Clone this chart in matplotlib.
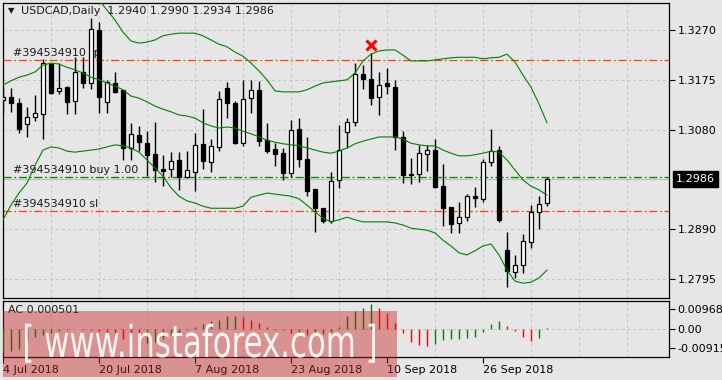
import numpy as np
import matplotlib
matplotlib.use("Agg")
import matplotlib.pyplot as plt
from matplotlib.textpath import TextPath
from matplotlib.patches import PathPatch, Rectangle
from matplotlib.font_manager import FontProperties
from matplotlib.transforms import Affine2D, blended_transform_factory

# --- data ---
opens = [1.3136, 1.3142, 1.3130, 1.3091, 1.3105, 1.3109, 1.3206, 1.3153, 1.3161, 1.3135,
         1.3190, 1.3168, 1.3270, 1.3133, 1.3169, 1.3156, 1.3044, 1.3070, 1.3054, 1.3033,
         1.3005, 1.3004, 1.3022, 1.2990, 1.3000, 1.3053, 1.3019, 1.3047, 1.3159, 1.3131,
         1.3055, 1.3140, 1.3156, 1.3061, 1.3043, 1.3035, 1.2997, 1.3081, 1.3024, 1.2967,
         1.2930, 1.2906, 1.2984, 1.3076, 1.3094, 1.3186, 1.3177, 1.3142, 1.3168, 1.3161,
         1.3065, 1.2995, 1.2995, 1.3034, 1.3041, 1.2972, 1.2932, 1.2901, 1.2914, 1.2953,
         1.2948, 1.3018, 1.3041, 1.2850, 1.2809, 1.2821, 1.2866, 1.2922, 1.2940]
highs = [1.3162, 1.3159, 1.3140, 1.3123, 1.3146, 1.3214, 1.3208, 1.3208, 1.3163, 1.3218,
         1.3218, 1.3292, 1.3286, 1.3175, 1.3190, 1.3156, 1.3092, 1.3087, 1.3078, 1.3095,
         1.3032, 1.3037, 1.3037, 1.3039, 1.3073, 1.3119, 1.3063, 1.3154, 1.3171, 1.3135,
         1.3175, 1.3175, 1.3173, 1.3093, 1.3055, 1.3044, 1.3098, 1.3102, 1.3066, 1.2967,
         1.2930, 1.2999, 1.3089, 1.3102, 1.3208, 1.3203, 1.3227, 1.3189, 1.3198, 1.3175,
         1.3078, 1.3025, 1.3051, 1.3051, 1.3063, 1.3014, 1.2932, 1.2941, 1.2957, 1.2971,
         1.3024, 1.3081, 1.3049, 1.2885, 1.2841, 1.2881, 1.2936, 1.2953, 1.2990]
lows = [1.3111, 1.3114, 1.3073, 1.3065, 1.3097, 1.3063, 1.3148, 1.3148, 1.3109, 1.3109,
        1.3159, 1.3157, 1.3111, 1.3112, 1.3149, 1.3022, 1.3022, 1.3040, 1.2991, 1.2981,
        1.2972, 1.2990, 1.2965, 1.2987, 1.2962, 1.3005, 1.3000, 1.3040, 1.3103, 1.3053,
        1.3049, 1.3112, 1.3049, 1.3036, 1.3011, 1.2984, 1.2990, 1.3009, 1.2954, 1.2885,
        1.2901, 1.2901, 1.2969, 1.3044, 1.3087, 1.3157, 1.3127, 1.3108, 1.3148, 1.3042,
        1.2979, 1.2976, 1.2981, 1.3001, 1.2969, 1.2897, 1.2883, 1.2883, 1.2906, 1.2933,
        1.2942, 1.3011, 1.2904, 1.2780, 1.2797, 1.2806, 1.2855, 1.2890, 1.2934]
closes = [1.3142, 1.3130, 1.3082, 1.3105, 1.3111, 1.3208, 1.3150, 1.3159, 1.3133, 1.3189,
          1.3168, 1.3271, 1.3143, 1.3170, 1.3152, 1.3044, 1.3071, 1.3057, 1.3032, 1.3003,
          1.3002, 1.3020, 1.2989, 1.3003, 1.3050, 1.3021, 1.3049, 1.3138, 1.3131, 1.3055,
          1.3138, 1.3155, 1.3059, 1.3040, 1.3033, 1.2997, 1.3079, 1.3024, 1.2963, 1.2930,
          1.2906, 1.2982, 1.3042, 1.3094, 1.3187, 1.3176, 1.3141, 1.3165, 1.3163, 1.3065,
          1.2993, 1.2993, 1.3035, 1.3041, 1.2971, 1.2931, 1.2900, 1.2913, 1.2953, 1.2950,
          1.3018, 1.3040, 1.2908, 1.2811, 1.2822, 1.2867, 1.2923, 1.2938, 1.2986]

bb_upper = [1.3392, 1.3390, 1.3388, 1.3385, 1.3382, 1.3378, 1.3374, 1.3368, 1.3362, 1.3355,
            1.3346, 1.3337, 1.3327, 1.3308, 1.3289, 1.3266, 1.3249, 1.3245, 1.3247, 1.3251,
            1.3259, 1.3262, 1.3264, 1.3264, 1.3264, 1.3259, 1.3251, 1.3243, 1.3238, 1.3228,
            1.3220, 1.3207, 1.3192, 1.3175, 1.3154, 1.3152, 1.3152, 1.3152, 1.3156, 1.3163,
            1.3169, 1.3171, 1.3173, 1.3175, 1.3188, 1.3211, 1.3224, 1.3230, 1.3232, 1.3232,
            1.3222, 1.3211, 1.3211, 1.3211, 1.3213, 1.3215, 1.3217, 1.3218, 1.3218, 1.3218,
            1.3215, 1.3217, 1.3218, 1.3224, 1.3209, 1.3184, 1.3161, 1.3129, 1.3093]
bb_middle = [1.3165, 1.3173, 1.3180, 1.3184, 1.3190, 1.3203, 1.3207, 1.3205, 1.3199, 1.3194,
             1.3188, 1.3180, 1.3175, 1.3169, 1.3163, 1.3156, 1.3144, 1.3140, 1.3133, 1.3125,
             1.3119, 1.3114, 1.3108, 1.3106, 1.3102, 1.3093, 1.3087, 1.3083, 1.3085, 1.3083,
             1.3077, 1.3072, 1.3066, 1.3060, 1.3056, 1.3053, 1.3051, 1.3049, 1.3045, 1.3041,
             1.3037, 1.3035, 1.3039, 1.3045, 1.3053, 1.3058, 1.3062, 1.3066, 1.3066, 1.3066,
             1.3062, 1.3054, 1.3051, 1.3049, 1.3049, 1.3041, 1.3035, 1.3030, 1.3030, 1.3032,
             1.3035, 1.3039, 1.3037, 1.3022, 1.3003, 1.2984, 1.2972, 1.2965, 1.2955]
bb_lower = [1.2908, 1.2936, 1.2959, 1.2978, 1.3012, 1.3041, 1.3047, 1.3045, 1.3039, 1.3037,
            1.3039, 1.3041, 1.3043, 1.3047, 1.3051, 1.3049, 1.3045, 1.3037, 1.3022, 1.3007,
            1.2991, 1.2969, 1.2953, 1.2944, 1.2940, 1.2934, 1.2930, 1.2930, 1.2930, 1.2930,
            1.2934, 1.2951, 1.2955, 1.2959, 1.2957, 1.2955, 1.2953, 1.2948, 1.2936, 1.2923,
            1.2911, 1.2904, 1.2908, 1.2913, 1.2908, 1.2904, 1.2904, 1.2904, 1.2904, 1.2902,
            1.2898, 1.2892, 1.2890, 1.2888, 1.2883, 1.2869, 1.2858, 1.2845, 1.2841, 1.2849,
            1.2858, 1.2862, 1.2841, 1.2812, 1.2791, 1.2787, 1.2789, 1.2797, 1.2812]

ac_values = [-0.0115, -0.0107, -0.0098, -0.0057, -0.0040, -0.0030, -0.0023, -0.0012, -0.0005, -0.0004,
             -0.0006, -0.0008, -0.0010, -0.0015, -0.0023, -0.0048, -0.0065, -0.0080, -0.0072, -0.0065,
             -0.0048, -0.0032, -0.0023, -0.0007, 0.0010, 0.0022, 0.0035, 0.0043, 0.0060, 0.0061,
             0.0055, 0.0043, 0.0027, 0.0007, -0.0005, -0.0007, -0.0023, -0.0020, -0.0030, -0.0025,
             -0.0028, -0.0015, 0.0008, 0.0060, 0.0085, 0.0101, 0.0118, 0.0101, 0.0077, 0.0027,
             -0.0023, -0.0065, -0.0078, -0.0085, -0.0073, -0.0053, -0.0052, -0.0048, -0.0047, -0.0040,
             -0.0015, 0.0023, 0.0038, 0.0013, -0.0012, -0.0040, -0.0060, -0.0045, 0.000501]

date_ticks = [0, 12, 24, 36, 48, 60]
date_labels = ["4 Jul 2018", "20 Jul 2018", "7 Aug 2018", "23 Aug 2018", "10 Sep 2018", "26 Sep 2018"]
price_ticks = [1.3270, 1.3175, 1.3080, 1.2890, 1.2795]
ac_ticks = [0.009686, 0.0, -0.00915]
ac_tick_labels = ["0.009686", "0.00", "-0.00915"]

tp_price = 1.3213
buy_price = 1.2989
sl_price = 1.2925
last_price = 1.2986
x_mark = (46, 1.3241)

# --- figure ---
W, H = 722, 380
bg = "#e6e6e6"
fig = plt.figure(figsize=(W / 100, H / 100), dpi=100, facecolor=bg)

def px_axes(x0, y0, x1, y1):
    return fig.add_axes([x0 / W, 1 - y1 / H, (x1 - x0) / W, (y1 - y0) / H])

ax = px_axes(2.5, 2.7, 669, 298)
ac = px_axes(2.5, 300.7, 669, 356.5)

n = len(closes)
idx = np.arange(n)
xlim = (-0.0625, 83.25)
grid_kw = dict(color="#c2c2c2", linestyle=(0, (3, 3)), linewidth=0.7)

for a in (ax, ac):
    a.set_facecolor(bg)
    a.set_xlim(*xlim)
    for s in a.spines.values():
        s.set_linewidth(0.9)
        s.set_color("black")
    a.set_xticks(np.arange(0, 84, 6), minor=True)
    a.grid(True, which="minor", axis="x", **grid_kw)
    a.tick_params(which="minor", length=0)
    a.yaxis.tick_right()

# main price panel
ax.set_ylim(1.27588, 1.33221)
ax.set_xticks([])
ax.set_yticks(price_ticks)
ax.set_yticklabels([f"{p:.4f}" for p in price_ticks])
ax.tick_params(axis="y", direction="out", length=4, width=0.8, labelsize=8, pad=2)
ax.grid(True, which="major", axis="y", **grid_kw)
ax.set_axisbelow(True)

# order lines
dash = (6.5, 2.2, 1.4, 2.2)
ax.axhline(last_price, color="#c0c0c0", lw=0.9, zorder=1)
ax.axhline(tp_price, color="#ff4500", lw=0.9, dashes=dash, zorder=1)
ax.axhline(buy_price, color="#008000", lw=0.9, dashes=dash, zorder=1)
ax.axhline(sl_price, color="#ff4500", lw=0.9, dashes=dash, zorder=1)
ax.text(1.2, tp_price + 0.0004, "#394534910 tp", fontsize=8, color="#1a1a1a", va="bottom", zorder=1)
ax.text(1.2, buy_price + 0.0004, "#394534910 buy 1.00", fontsize=8, color="#1a1a1a", va="bottom", zorder=1)
ax.text(1.2, sl_price + 0.0004, "#394534910 sl", fontsize=8, color="#1a1a1a", va="bottom", zorder=1)

# candles
o = np.array(opens); c = np.array(closes)
up = c >= o
ax.vlines(idx, lows, highs, color="black", lw=1.0, zorder=3)
bottoms = np.minimum(o, c)
heights = np.maximum(np.abs(c - o), 0.00008)
ax.bar(idx, heights, bottom=bottoms, width=0.62, color=np.where(up, "white", "black"),
       edgecolor="black", linewidth=0.9, zorder=4)

# bollinger bands
for band in (bb_upper, bb_middle, bb_lower):
    ax.plot(idx, band, color="#008000", lw=0.8, zorder=5)

ax.plot(*x_mark, marker="x", color="#ff0000", ms=6.5, mew=2.2, zorder=6)

# current price box
tr = blended_transform_factory(ax.transAxes, ax.transData)
ax.text(1.0105, last_price, f"{last_price:.4f}", transform=tr, fontsize=8, color="white",
        va="center", ha="left", clip_on=False,
        bbox=dict(boxstyle="square,pad=0.25", facecolor="black", edgecolor="black"))

# title
fig.text(8 / W, 1 - 11 / H, "\u25bc", fontsize=6, va="center", ha="left", color="#1a1a1a")
fig.text(21 / W, 1 - 11 / H, "USDCAD,Daily  1.2940 1.2990 1.2934 1.2986", fontsize=8,
         va="center", ha="left", color="#1a1a1a")

# AC panel
ac.set_ylim(-0.0135, 0.0135)
ac_colors = ["#008000"] + ["#008000" if ac_values[i] > ac_values[i - 1] else "#ff0000"
                           for i in range(1, n)]
ac.vlines(idx, 0, ac_values, colors=ac_colors, lw=1.0, zorder=3)
ac.axhline(0, **grid_kw)
ac.set_yticks(ac_ticks)
ac.set_yticklabels(ac_tick_labels)
ac.tick_params(axis="y", direction="out", length=4, width=0.8, labelsize=8, pad=2)
ac.set_xticks(date_ticks)
ac.set_xticklabels(date_labels, ha="left")
ac.tick_params(axis="x", direction="out", length=4, width=0.8, labelsize=8, pad=2)
ac.text(0.008, 0.93, "AC 0.000501", transform=ac.transAxes, fontsize=8, va="top", color="#1a1a1a")

# watermark
fig.add_artist(Rectangle((3, H - 377), 394, 66, transform=None, facecolor="#c81e1e",
                         alpha=0.42, edgecolor="none", zorder=10))
fp = FontProperties(family="DejaVu Sans")
wm = TextPath((0, 0), "[ www.instaforex.com ]", size=1, prop=fp)
ext = wm.get_extents()
xh = TextPath((0, 0), "x", size=1, prop=fp).get_extents().height
sx = 350 / ext.width
sy = 24 / xh
wm_tr = Affine2D().translate(-ext.x0, 0).scale(sx, sy).translate(25, H - 357)
fig.add_artist(PathPatch(wm, transform=wm_tr, facecolor="white", edgecolor="none",
                         alpha=0.9, zorder=11))

fig.savefig("out.png", dpi=100, facecolor=bg)
